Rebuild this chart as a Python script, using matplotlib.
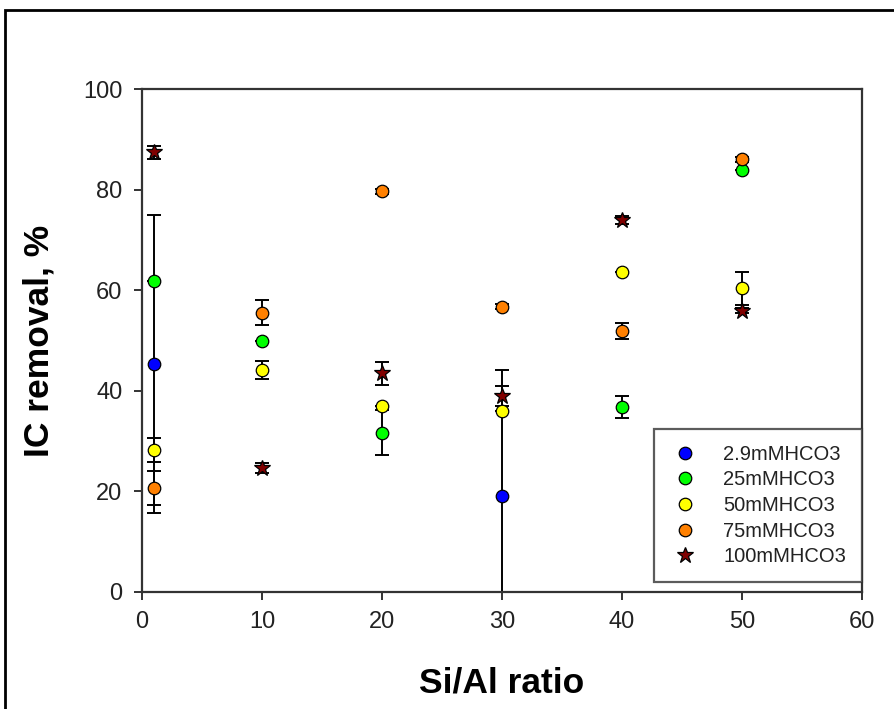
import matplotlib
matplotlib.use("Agg")
import matplotlib.pyplot as plt
from matplotlib.patches import Rectangle

plt.rcParams['font.family'] = ['Liberation Sans', 'DejaVu Sans']

# Si/Al ratio of each sample
x_blue = [1, 30]
x_green = [1, 10, 20, 40, 50]
x_yellow = [1, 10, 20, 30, 40, 50]
x_orange = [1, 10, 20, 30, 40, 50]
x_star = [1, 10, 20, 30, 40, 50]

# IC removal (%) and its error for each HCO3 concentration
y_blue = [45.3, 19.1]
e_blue = [29.6, 25.0]
y_green = [61.8, 49.9, 31.7, 36.8, 83.9]
e_green = [0.0, 0.0, 4.5, 2.2, 0.0]
y_yellow = [28.2, 44.1, 37.0, 36.0, 63.7, 60.4]
e_yellow = [2.4, 1.8, 0.0, 0.0, 0.0, 3.3]
y_orange = [20.7, 55.5, 79.7, 56.7, 51.9, 86.0]
e_orange = [3.4, 2.5, 0.5, 0.5, 1.6, 0.5]
y_star = [87.4, 24.7, 43.5, 39.0, 74.0, 55.9]
e_star = [1.3, 1.0, 2.3, 2.0, 0.8, 0.5]

labels = ['2.9mMHCO3', '25mMHCO3', '50mMHCO3', '75mMHCO3', '100mMHCO3']
x_ticks = [0, 10, 20, 30, 40, 50, 60]
y_ticks = [0, 20, 40, 60, 80, 100]

W, H = 894, 709
fig = plt.figure(figsize=(W / 100, H / 100), dpi=100)
ax = fig.add_axes([142 / W, 1 - 592 / H, (862 - 142) / W, (592 - 89) / H])

series = [
    (x_blue, y_blue, e_blue, 'o', '#0000FF', 9.0),
    (x_green, y_green, e_green, 'o', '#00FF00', 9.0),
    (x_yellow, y_yellow, e_yellow, 'o', '#FFFF00', 9.0),
    (x_orange, y_orange, e_orange, 'o', '#FF8000', 9.0),
    (x_star, y_star, e_star, '*', '#800000', 12.0),
]

handles = []
for (xs, ys, es, mk, col, ms), lab in zip(series, labels):
    ax.errorbar(xs, ys, yerr=es, fmt='none', ecolor='black', elinewidth=1.4,
                capsize=5, capthick=1.4, zorder=2)
    h, = ax.plot(xs, ys, linestyle='none', marker=mk, markersize=ms,
                 markerfacecolor=col, markeredgecolor='black',
                 markeredgewidth=0.9, zorder=3, label=lab)
    handles.append(h)

ax.set_xlim(0, 60)
ax.set_ylim(0, 100)
ax.set_xticks(x_ticks)
ax.set_yticks(y_ticks)
ax.tick_params(direction='out', length=6, width=1.4, color='#333333',
               labelsize=17, labelcolor='#222222', pad=8)
for s in ax.spines.values():
    s.set_linewidth(1.6)
    s.set_color('#333333')

ax.set_xlabel('Si/Al ratio', fontsize=25.5, fontweight='bold', labelpad=24)
ax.set_ylabel('IC removal, %', fontsize=25.5, fontweight='bold', labelpad=20)

leg = ax.legend(handles=handles, loc='lower right',
                bbox_to_anchor=(1.0, 10 / 503), fontsize=14.5,
                frameon=True, fancybox=False, edgecolor='#333333',
                borderpad=0.78, labelspacing=0.33, handletextpad=1.2,
                handlelength=1.45, borderaxespad=0.0)
leg.get_frame().set_linewidth(1.6)
for t in leg.get_texts():
    t.set_color('#222222')

# outer frame around the figure
fig.patches.append(Rectangle((5 / W, -0.2), 1.5, (H - 10) / H + 0.2,
                             transform=fig.transFigure, fill=False,
                             edgecolor='black', linewidth=2, clip_on=False))

fig.savefig('out.png', dpi=100)
